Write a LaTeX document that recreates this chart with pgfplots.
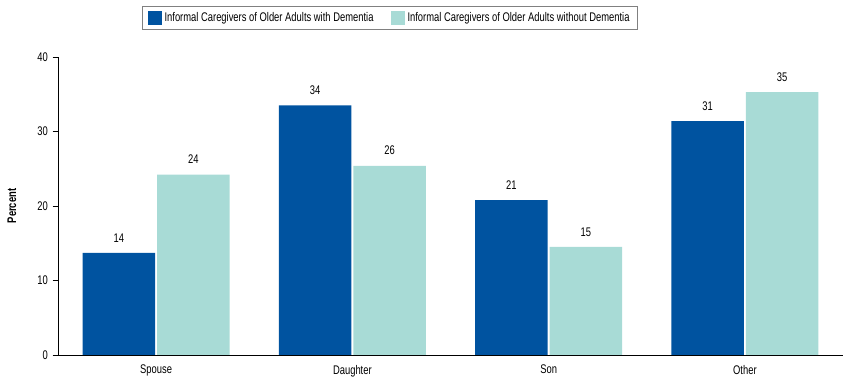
\documentclass[border=0pt]{standalone}
\usepackage{fontspec}
\setmainfont{Liberation Sans}[FakeStretch=0.75]
\usepackage{pgfplots}
\pgfplotsset{compat=1.18}
\definecolor{darkb}{RGB}{0,83,160}
\definecolor{lightt}{RGB}{168,219,214}
\begin{document}
\begin{tikzpicture}[font=\fontsize{9.4}{11}\selectfont]
\begin{axis}[name=ax, scale only axis, width=588.75pt, height=223.5pt,
 xmin=-0.5, xmax=3.5, ymin=0, ymax=40,
 axis x line=bottom, axis y line=left,
 axis line style={-, black, line width=0.6pt},
 ytick={0,10,20,30,40}, xtick={0,1,2,3}, xticklabels={Spouse,Daughter,Son,Other},
 x tick style={draw=none}, y tick style={black, line width=0.6pt},
 tick align=outside, major tick length=4pt,
 ylabel={\textbf{Percent}},
 ylabel style={yshift=9pt},
 ybar, bar width=0.37,
 /pgf/number format/assume math mode=true,
 nodes near coords, point meta=explicit symbolic,
 every node near coord/.append style={yshift=4.5pt, black},
 legend style={at={(0.423,1)}, anchor=north, yshift=38.25pt, legend columns=2,
   draw=gray, line width=0.6pt, inner xsep=4pt, inner ysep=2.5pt,
   /tikz/every even column/.append style={column sep=11pt}},
 legend image code/.code={\path[#1] (0pt,-5.25pt) rectangle (10.5pt,5.25pt);},
 ]
\addplot[fill=darkb, draw=none, bar shift=-0.19] coordinates {(0,13.7)[14] (1,33.5)[34] (2,20.8)[21] (3,31.4)[31]};
\addplot[fill=lightt, draw=none, bar shift=0.19] coordinates {(0,24.2)[24] (1,25.4)[26] (2,14.5)[15] (3,35.3)[35]};
\legend{Informal Caregivers of Older Adults with Dementia, Informal Caregivers of Older Adults without Dementia}
\end{axis}
\pgfresetboundingbox
\path (ax.south west) ++(-43.5pt,-21.75pt) rectangle ++(637.5pt,288pt);
\end{tikzpicture}
\end{document}
